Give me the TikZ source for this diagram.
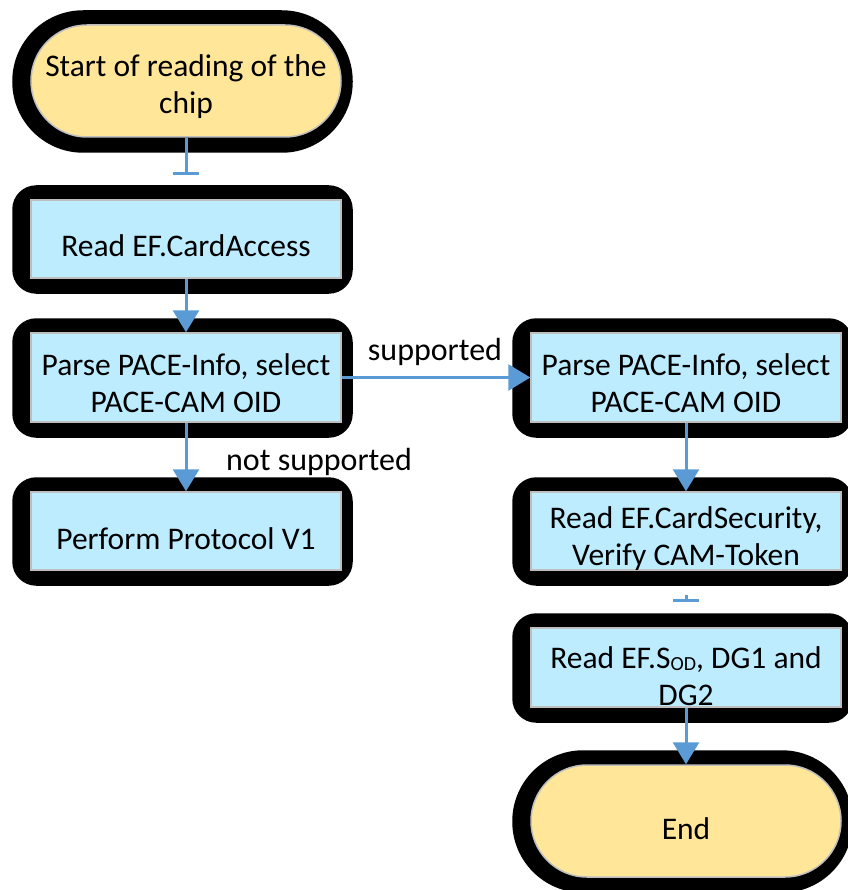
\documentclass[tikz,border=0pt]{standalone}
\usepackage{fontspec}
\setmainfont{Carlito}
\usetikzlibrary{arrows.meta}
\definecolor{termfill}{RGB}{255,230,153}
\definecolor{stepfill}{RGB}{189,236,255}
\definecolor{edgegray}{RGB}{190,190,190}
\definecolor{flow}{RGB}{91,155,213}
\pgfdeclarelayer{background}
\pgfsetlayers{background,main}
% thick black halo behind a node
\newcommand\halo[2]{%
  \begin{pgfonlayer}{background}
    \fill[black, rounded corners=#2] ([shift={(-18,-14)}]#1.north west) rectangle ([shift={(11,15)}]#1.south east);
  \end{pgfonlayer}}
\begin{document}
\begin{tikzpicture}[x=1pt,y=-1pt,
  terminal/.style={draw=edgegray, line width=1.5pt, fill=termfill, rounded corners=56pt,
    minimum width=310pt, minimum height=112pt, inner sep=0pt},
  stepbox/.style={draw=edgegray, line width=1.5pt, fill=stepfill,
    minimum width=310pt, inner sep=0pt},
  txt/.style={font=\fontsize{31.5}{37}\selectfont, align=center, inner sep=0pt},
  lbl/.style={font=\fontsize{32}{37}\selectfont, inner sep=0pt},
  flowline/.style={draw=flow, line width=3pt},
  flowarrow/.style={flowline, -{Triangle[width=26pt,length=22pt]}},
  flowtee/.style={flowline, -{Bar[width=26pt]}}]
\useasboundingbox (0,0) rectangle (847,890);
\begin{pgfonlayer}{background}
  \fill[white] (0,0) rectangle (847,890);
\end{pgfonlayer}

% shapes
\node[terminal] (start) at (186,81) {};
\node[stepbox, minimum height=78pt] (cardaccess) at (186,239) {};
\node[stepbox, minimum height=89pt] (parseL) at (186,377.5) {};
\node[stepbox, minimum height=78pt] (protv1) at (186,531) {};
\node[stepbox, minimum height=89pt] (parseR) at (686,377.5) {};
\node[stepbox, minimum height=78pt] (cardsec) at (686,531) {};
\node[stepbox, minimum height=79pt] (readsod) at (686,667.5) {};
\node[terminal] (finish) at (686,821) {};

\halo{start}{71pt}
\halo{cardaccess}{24pt}
\halo{parseL}{24pt}
\halo{protv1}{24pt}
\halo{parseR}{24pt}
\halo{cardsec}{24pt}
\halo{readsod}{24pt}
\halo{finish}{71pt}

% texts
\node[txt] (start-t) at ([yshift=-6pt]start.center) {Start of reading of the\\chip};
\node[txt] (cardaccess-t) at ([yshift=-7pt]cardaccess.center) {Read EF.CardAccess};
\node[txt] (parseL-t) at ([yshift=-6pt]parseL.center) {Parse PACE-Info, select\\PACE-CAM OID};
\node[txt] (protv1-t) at ([yshift=-8pt]protv1.center) {Perform Protocol V1};
\node[txt] (parseR-t) at ([yshift=-6pt]parseR.center) {Parse PACE-Info, select\\PACE-CAM OID};
\node[txt] (cardsec-t) at ([yshift=-8pt]cardsec.center) {Read EF.CardSecurity,\\Verify CAM-Token};
\node[txt] (readsod-t) at ([yshift=-9pt]readsod.center) {Read EF.S{\fontsize{20}{20}\selectfont\raisebox{-2pt}{OD}}, DG1 and\\DG2};
\node[txt] (finish-t) at ([yshift=-8pt]finish.center) {End};

% connectors
\coordinate (teeA) at (186,175);
\coordinate (teeB0) at (686,595);
\coordinate (teeB) at (686,602);
\draw[flowtee] (start.south) -- (teeA);
\draw[flowarrow] (cardaccess.south) -- (parseL.north);
\draw[flowarrow] (parseL.east) -- (parseR.west);
\draw[flowarrow] (parseL.south) -- (protv1.north);
\draw[flowarrow] (parseR.south) -- (cardsec.north);
\draw[flowtee] (teeB0) -- (teeB);
\draw[flowarrow] (readsod.south) -- (finish.north);

\node[lbl] (lbl-sup) at (435,352) {supported};
\node[lbl] (lbl-notsup) at (319,462) {not supported};
\end{tikzpicture}
\end{document}
